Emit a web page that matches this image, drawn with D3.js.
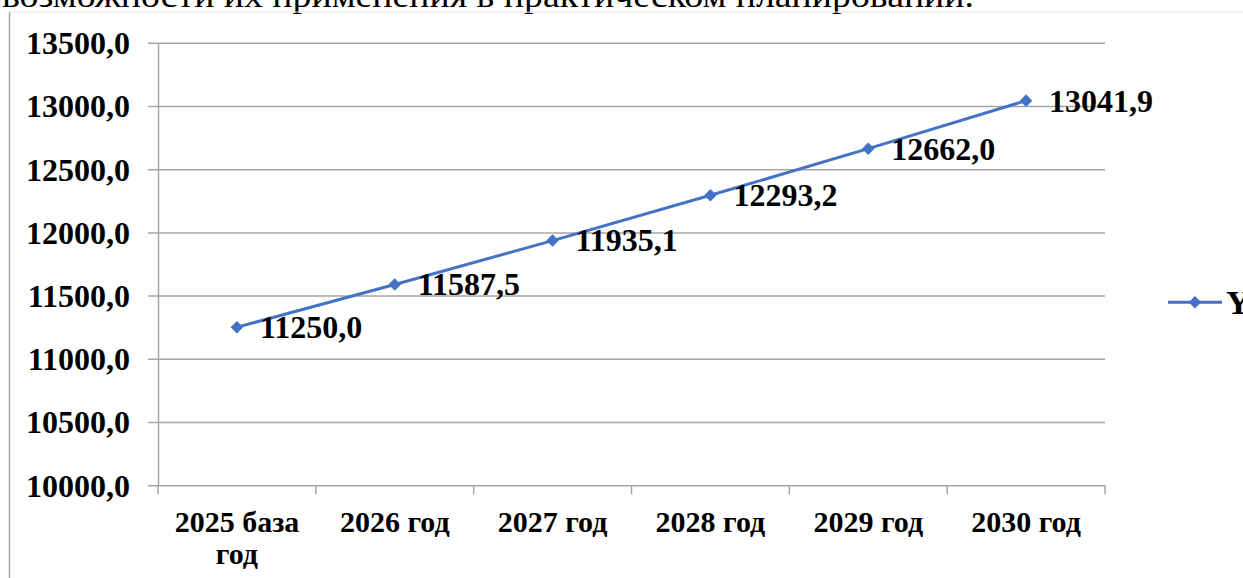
<!DOCTYPE html>
<html>
<head>
<meta charset="utf-8">
<script src="https://cdn.jsdelivr.net/npm/d3@7"></script>
<style>
  html, body { margin: 0; padding: 0; background: #fff; overflow: hidden; }
  svg { display: block; }
  text { font-family: "Liberation Serif", "Times New Roman", serif; }
</style>
</head>
<body>
<svg id="chart" width="1243" height="578"></svg>
<script>
// data
var categories = ['2025 база год', '2026 год', '2027 год', '2028 год', '2029 год', '2030 год']
var values = [11250.0, 11587.5, 11935.1, 12293.2, 12662.0, 13041.9]
var yTicks = [10000, 10500, 11000, 11500, 12000, 12500, 13000, 13500]
var seriesName = 'Y'
var headText = 'возможности их применения в практическом планировании.'

var svg = d3.select('#chart')
var W = 1243, H = 578
// plot area (note: "top" is taken by window.top)
var plotL = 158, plotR = 1105, plotT = 42.7, plotB = 485.3
var blue = '#4472C4'
var grid = '#a6a6a6'

var fmt = d3.formatLocale({ decimal: ',', thousands: '', grouping: [3], currency: ['', ''] }).format('.1f')

var x = d3.scaleBand().domain(categories).range([plotL, plotR])
var y = d3.scaleLinear().domain([10000, 13500]).range([plotB, plotT])

// text of the page above the chart (cut at the top)
svg.append('text')
    .attr('x', 2)
    .attr('y', 7)
    .attr('font-size', 34)
    .attr('textLength', 972)
    .attr('lengthAdjust', 'spacingAndGlyphs')
    .text(headText)

// chart frame
svg.append('line').attr('x1', 9.5).attr('x2', W).attr('y1', 12).attr('y2', 12)
    .attr('stroke', '#e6e6e6').attr('stroke-width', 1)
svg.append('line').attr('x1', 9.5).attr('x2', 9.5).attr('y1', 12).attr('y2', H)
    .attr('stroke', '#a6a6a6').attr('stroke-width', 1.5)

// horizontal gridlines + y labels
var yAxis = d3.axisLeft(y)
    .tickValues(yTicks)
    .tickSize(-(plotR - plotL))
    .tickSizeOuter(0)
    .tickPadding(28)
    .tickFormat(fmt)

var gy = svg.append('g')
    .attr('transform', 'translate(' + plotL + ',0)')
    .call(yAxis)
gy.select('.domain').attr('stroke', grid).attr('stroke-width', 1.5)
gy.selectAll('.tick line').attr('stroke', grid).attr('stroke-width', 1.5).attr('x1', -10)
gy.selectAll('.tick text')
    .attr('font-family', '"Liberation Serif", "Times New Roman", serif')
    .attr('font-size', 32)
    .attr('font-weight', 'bold')
    .attr('fill', '#000')
    .attr('dy', '0.34em')

// x axis: ticks between categories
var bounds = categories.map(function (c) { return x(c) }).concat([plotR])
svg.append('g').selectAll('line')
    .data(bounds)
    .enter()
    .append('line')
    .attr('x1', function (d) { return d })
    .attr('x2', function (d) { return d })
    .attr('y1', plotB)
    .attr('y2', plotB + 9)
    .attr('stroke', grid)
    .attr('stroke-width', 1.5)

var xl = svg.append('g').selectAll('text')
    .data(categories)
    .enter()
    .append('text')
    .attr('x', function (d) { return x(d) + x.bandwidth() / 2 })
    .attr('y', 532)
    .attr('text-anchor', 'middle')
    .attr('font-size', 30)
    .attr('font-weight', 'bold')
    .text(function (d) { return d })

// wrap labels wider than the band
xl.each(function (d) {
    var t = d3.select(this)
    if (this.getComputedTextLength() <= x.bandwidth() - 4) return
    var words = d.split(' ')
    var cx = +t.attr('x')
    t.text(null)
    var line = [], tsp = t.append('tspan').attr('x', cx)
    words.forEach(function (w) {
        line.push(w)
        tsp.text(line.join(' '))
        if (tsp.node().getComputedTextLength() > x.bandwidth() - 4 && line.length > 1) {
            line.pop()
            tsp.text(line.join(' '))
            line = [w]
            tsp = t.append('tspan').attr('x', cx).attr('dy', 32).text(w)
        }
    })
})

// series line
var line = d3.line()
    .x(function (d, i) { return x(categories[i]) + x.bandwidth() / 2 })
    .y(function (d) { return y(d) })

svg.append('path')
    .datum(values)
    .attr('d', line)
    .attr('fill', 'none')
    .attr('stroke', blue)
    .attr('stroke-width', 3)

var diamond = d3.symbol().type(d3.symbolDiamond2).size(100)

svg.append('g').selectAll('path')
    .data(values)
    .enter()
    .append('path')
    .attr('d', diamond)
    .attr('transform', function (d, i) {
        return 'translate(' + (x(categories[i]) + x.bandwidth() / 2) + ',' + y(d) + ')'
    })
    .attr('fill', blue)

// data labels to the right of each point
svg.append('g').selectAll('text')
    .data(values)
    .enter()
    .append('text')
    .attr('x', function (d, i) { return x(categories[i]) + x.bandwidth() / 2 + 23 })
    .attr('y', function (d) { return y(d) })
    .attr('dy', '0.34em')
    .attr('font-size', 32)
    .attr('font-weight', 'bold')
    .text(function (d) { return fmt(d) })

// legend (cut at the right edge)
var ly = 302.3
svg.append('line').attr('x1', 1168).attr('x2', 1222).attr('y1', ly).attr('y2', ly)
    .attr('stroke', blue).attr('stroke-width', 3)
svg.append('path').attr('d', diamond).attr('transform', 'translate(1195,' + ly + ')').attr('fill', blue)
svg.append('text')
    .attr('x', 1226)
    .attr('y', ly)
    .attr('dy', '0.34em')
    .attr('font-size', 34)
    .attr('font-weight', 'bold')
    .text(seriesName)
</script>
</body>
</html>
